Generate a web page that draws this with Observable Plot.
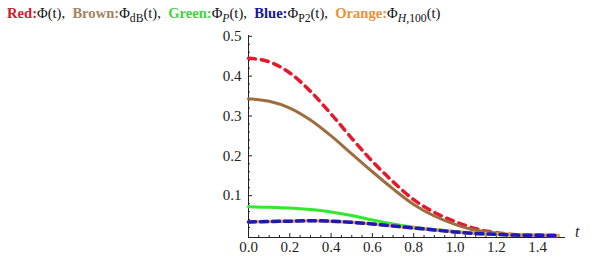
<!DOCTYPE html>
<html>
<head>
<meta charset="utf-8">
<script src="https://cdn.jsdelivr.net/npm/d3@7"></script>
<script src="https://cdn.jsdelivr.net/npm/@observablehq/plot@0.6"></script>
<style>
  body { margin: 0; background: white; }
  #title { font-family: "Liberation Serif", "Times New Roman", serif; font-size: 14.6px; height: 26px; line-height: 27px; padding-left: 7px; white-space: nowrap; color: #111; }
  #title b { font-weight: bold; }
  #title sub { font-size: 0.8em; line-height: 0; vertical-align: -0.35em; }
</style>
</head>
<body>
<div id="title"><b style="color:#cf1a2c">Red:</b>Φ(t),&nbsp; <b style="color:#a3835f">Brown:</b>Φ<sub>dB</sub>(t),&nbsp; <b style="color:#3fd53f">Green:</b>Φ<sub><i>P</i></sub>(t),&nbsp; <b style="color:#15159e">Blue:</b>Φ<sub>P2</sub>(t),&nbsp; <b style="color:#e8913c">Orange:</b>Φ<sub><i>H</i>,100</sub>(t)</div>
<div id="chart"></div>
<script>
const t = [0, 0.1, 0.2, 0.3, 0.4, 0.5, 0.6, 0.7, 0.8, 0.9, 1.0, 1.1, 1.2, 1.3, 1.4, 1.5];
const red    = [0.445, 0.436, 0.408, 0.362, 0.305, 0.244, 0.186, 0.135, 0.090, 0.058, 0.035, 0.017, 0.007, 0.002, 0.0005, 0];
const brown  = [0.343, 0.337, 0.320, 0.290, 0.250, 0.205, 0.160, 0.117, 0.078, 0.049, 0.028, 0.013, 0.006, 0.002, 0.0005, 0];
const green  = [0.072, 0.071, 0.069, 0.065, 0.059, 0.050, 0.039, 0.029, 0.021, 0.015, 0.010, 0.006, 0.003, 0.001, 0.0005, 0];
const blue   = [0.034, 0.035, 0.036, 0.037, 0.036, 0.033, 0.029, 0.024, 0.019, 0.014, 0.009, 0.005, 0.003, 0.001, 0.0005, 0];
const orange = [0.034, 0.035, 0.036, 0.037, 0.036, 0.033, 0.029, 0.024, 0.019, 0.014, 0.009, 0.005, 0.003, 0.001, 0.0005, 0];

const xMajor = [0, 0.2, 0.4, 0.6, 0.8, 1.0, 1.2, 1.4];
const xMinor = d3.range(0, 1.5001, 0.05).map(v => +v.toFixed(2)).filter(v => !xMajor.includes(v));
const yMajor = [0.1, 0.2, 0.3, 0.4, 0.5];
const yMinor = d3.range(0.02, 0.5001, 0.02).map(v => +v.toFixed(2)).filter(v => !yMajor.includes(v));
const xDomain = [0, 1.535];
const yDomain = [-0.005, 0.502];
const axisY0 = -0.005;

const W = 594, H = 240, mL = 248, mR = 29, mT = 9, mB = 29;
const plotW = W - mL - mR, plotH = H - mT - mB;
const serif = '"Liberation Serif", "Times New Roman", serif';

const rows = (vals) => t.map((x, i) => ({t: x, v: vals[i]}));

const chart = Plot.plot({
  width: W, height: H,
  marginLeft: mL, marginRight: mR, marginTop: mT, marginBottom: mB,
  style: {fontFamily: serif, fontSize: "15px", background: "white", color: "#222"},
  x: {domain: xDomain, axis: null},
  y: {domain: yDomain, axis: null},
  marks: [
    Plot.ruleX([0], {stroke: "#222", strokeWidth: 1}),
    Plot.ruleY([axisY0], {stroke: "#222", strokeWidth: 1}),
    Plot.tickY(yMajor, {y: d => d, insetRight: plotW - 4, stroke: "#222"}),
    Plot.tickY(yMinor, {y: d => d, insetRight: plotW - 2, stroke: "#222"}),
    Plot.tickX(xMajor, {x: d => d, insetTop: plotH - 4, stroke: "#222"}),
    Plot.tickX(xMinor, {x: d => d, insetTop: plotH - 2, stroke: "#222"}),
    Plot.axisY({ticks: yMajor, tickSize: 0, tickPadding: 7, tickFormat: d3.format(".1f"), label: null, fontSize: 15, fontFamily: serif}),
    Plot.axisX({ticks: xMajor, tickSize: 0, tickPadding: 4, tickFormat: d3.format(".1f"), label: null, fontSize: 15, fontFamily: serif}),
    Plot.text(["t"], {frameAnchor: "bottom-right", dx: 14, dy: -1, fontStyle: "italic", fontSize: 16, fontFamily: serif, fill: "#222"}),
    Plot.line(rows(red), {x: "t", y: "v", stroke: "#e6192b", strokeWidth: 3.5, strokeDasharray: "7,6", curve: "monotone-x"}),
    Plot.line(rows(brown), {x: "t", y: "v", stroke: "#9e6d3d", strokeWidth: 3, curve: "monotone-x"}),
    Plot.line(rows(green), {x: "t", y: "v", stroke: "#2fe82f", strokeWidth: 3, curve: "monotone-x"}),
    Plot.line(rows(orange), {x: "t", y: "v", stroke: "#eea256", strokeWidth: 3.5, curve: "monotone-x"}),
    Plot.line(rows(blue), {x: "t", y: "v", stroke: "#1a1ac0", strokeWidth: 3.5, strokeDasharray: "7,5", curve: "monotone-x"})
  ]
});
document.getElementById("chart").appendChild(chart);
</script>
</body>
</html>
